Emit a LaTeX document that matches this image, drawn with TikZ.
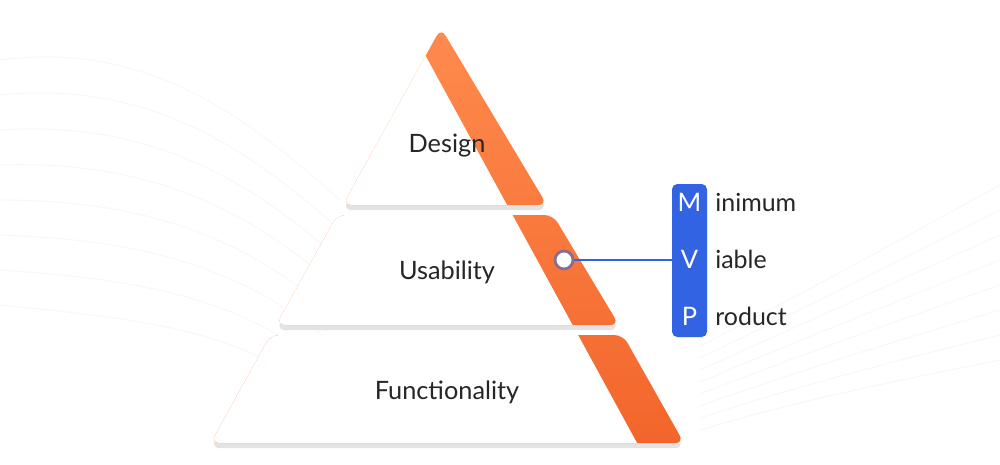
\documentclass[tikz,border=0pt]{standalone}
\usepackage{fontspec}
\setmainfont{Lato}
\begin{document}
\begin{tikzpicture}[x=0.02cm,y=-0.02cm,
  lbl/.style={font=\fontsize{14.4}{16}\selectfont, text=black!85},
  letter/.style={font=\fontsize{14.5}{16}\selectfont, text=white, inner sep=0},
  word/.style={font=\fontsize{14.2}{16}\selectfont, text=black!85, anchor=west, inner sep=0},
  bgline/.style={gray!6, line width=0.5pt}]
\definecolor{orTop}{HTML}{FF8B4E}
\definecolor{orBot}{HTML}{F2652B}
\definecolor{mvp}{HTML}{3263E2}
\definecolor{ring}{HTML}{8A6C8E}
\useasboundingbox (0,0) rectangle (1000,464);
\fill[white] (0,0) rectangle (1000,464);
% faint background curves
\foreach \i in {0,...,7}{
  \draw[bgline] (0,{60+\i*35}) .. controls (150,{40+\i*40}) and (250,{120+\i*30}) .. (340,{200+\i*30});
  \draw[bgline] (700,{430-\i*12}) .. controls (800,{400-\i*15}) and (900,{380-\i*20}) .. (1000,{360-\i*25});
}
% tier shapes: design, usability, functionality
\def\tierD{(441,28) -- (547,205) -- (342.8,205) -- cycle}
\def\tierU{(337.2,215) -- (553,215) -- (619,325) -- (276.2,325) -- cycle}
\def\tierF{(270.6,335) -- (623,335) -- (684,443) -- (210.7,443) -- cycle}
\foreach \t in {\tierD,\tierU,\tierF}{
  \fill[black!11, rounded corners=5, yshift=-0.1cm] \t;
  \begin{scope}
    \clip[rounded corners=5] \t;
    \shade[top color=orTop, bottom color=orBot] (200,20) rectangle (700,450);
    \fill[white] (190,20) -- (406,20) -- (637,443) -- (637,455) -- (190,455) -- cycle;
  \end{scope}
}
\node[lbl] (design) at (447,146) {Design};
\node[lbl] (usab) at (447,272) {Usability};
\node[lbl] (func) at (447,392) {Functionality};
% MVP box
\fill[mvp, rounded corners=3] (672,184) rectangle (707,337);
\coordinate (box) at (672,260);
\node[letter] (M) at (689.5,202) {M};
\node[letter] (V) at (689.5,259) {V};
\node[letter] (P) at (689.5,316) {P};
\node[word] (w1) at (715,202) {inimum};
\node[word] (w2) at (715,259) {iable};
\node[word] (w3) at (715,316) {roduct};
\node[circle, fill=white, draw=ring, line width=1.6pt, minimum size=0.36cm, inner sep=0] (dot) at (564,260) {};
\draw[mvp, line width=1pt] (dot.east) -- (box);
\end{tikzpicture}
\end{document}
